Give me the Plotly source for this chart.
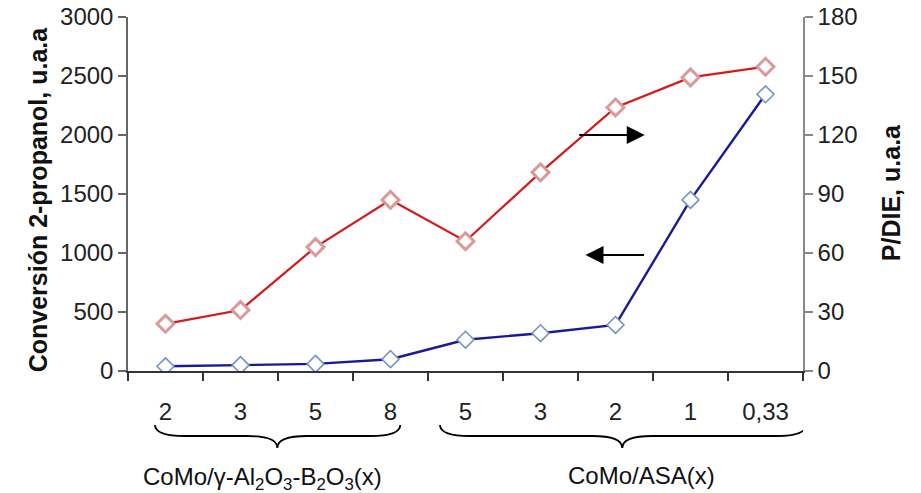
import plotly.graph_objects as go

categories = ["2", "3", "5", "8", "5", "3", "2", "1", "0,33"]
conversion = [40, 50, 60, 100, 265, 320, 390, 1450, 2345]   # left axis
p_die = [24, 31, 63, 87, 66, 101, 134, 149.3, 154.7]        # right axis
group_labels = ["CoMo/γ-Al<sub>2</sub>O<sub>3</sub>-B<sub>2</sub>O<sub>3</sub>(x)", "CoMo/ASA(x)"]
left_title = "<b>Conversión 2-propanol, u.a.a</b>"
right_title = "<b>P/DIE, u.a.a</b>"

xs = list(range(len(categories)))
FONT = "Liberation Sans, Arial, sans-serif"
TICK = 24

fig = go.Figure()
fig.add_trace(go.Scatter(
    x=xs, y=conversion, mode="lines+markers", yaxis="y",
    line=dict(color="#1a1a99", width=2.4),
    marker=dict(symbol="diamond", size=13, color="white",
                line=dict(color="#7593bd", width=1.6)),
    showlegend=False))
fig.add_trace(go.Scatter(
    x=xs, y=p_die, mode="lines+markers", yaxis="y2",
    line=dict(color="#d41a1a", width=2.2),
    marker=dict(symbol="diamond", size=13, color="white",
                line=dict(color="#d99a9a", width=3)),
    showlegend=False))

bounds = [i - 0.5 for i in range(len(categories) + 1)]

fig.update_layout(
    width=921, height=493,
    margin=dict(l=128, r=118, t=17, b=122, autoexpand=False),
    plot_bgcolor="white", paper_bgcolor="white",
    font=dict(family=FONT, size=TICK, color="#222"),
    xaxis=dict(range=[-0.5, 8.5], tickmode="array", tickvals=xs, ticktext=categories,
               ticks="", showgrid=False, zeroline=False, automargin=False,
               showline=True, linecolor="#333", linewidth=1.5,
               ticklabelstandoff=18, ticklabeloverflow="allow",
               tickfont=dict(size=TICK, color="#222"),
               minor=dict(tickmode="array", tickvals=bounds, ticks="outside",
                          ticklen=8, tickwidth=1.5, tickcolor="#333", showgrid=False)),
    yaxis=dict(range=[0, 3000], tickvals=[0, 500, 1000, 1500, 2000, 2500, 3000],
               ticks="outside", ticklen=8, tickcolor="#666", tickwidth=1.5,
               showline=True, linecolor="#666", linewidth=1.5, automargin=False,
               showgrid=False, zeroline=False, ticklabeloverflow="allow",
               tickfont=dict(size=TICK, color="#222")),
    yaxis2=dict(range=[0, 180], tickvals=[0, 30, 60, 90, 120, 150, 180],
                overlaying="y", side="right", automargin=False,
                ticks="outside", ticklen=8, tickcolor="#888", tickwidth=1.5,
                showline=True, linecolor="#888", linewidth=1.5,
                showgrid=False, zeroline=False, ticklabeloverflow="allow",
                tickfont=dict(size=TICK, color="#222")),
)

# Axis titles
fig.add_annotation(x=-0.157, y=0.485, xref="paper", yref="paper", text=left_title,
                   textangle=-90, showarrow=False, font=dict(size=25, color="#111"))
fig.add_annotation(x=1.154, y=0.505, xref="paper", yref="paper", text=right_title,
                   textangle=-90, showarrow=False, font=dict(size=25, color="#111"))

# Arrows
fig.add_annotation(x=6.39, y=2000, xref="x", yref="y", ax=-67, ay=0,
                   showarrow=True, arrowhead=2, arrowsize=1.8, arrowwidth=2,
                   arrowcolor="black", text="")
fig.add_annotation(x=5.6, y=983, xref="x", yref="y", ax=60, ay=0,
                   showarrow=True, arrowhead=2, arrowsize=1.8, arrowwidth=2,
                   arrowcolor="black", text="")

# Braces
def brace(x0, x1, xm, ytop=-0.1525, ymid=-0.1836, ytip=-0.2175, r=0.4):
    return (f"M {x0},{ytop} Q {x0},{ymid} {x0 + r},{ymid} L {xm - r},{ymid} "
            f"Q {xm},{ymid} {xm},{ytip} Q {xm},{ymid} {xm + r},{ymid} "
            f"L {x1 - r},{ymid} Q {x1},{ymid} {x1},{ytop}")

fig.add_shape(type="path", xref="x", yref="paper", path=brace(-0.14, 3.13, 1.49),
              line=dict(color="black", width=1.8))
fig.add_shape(type="path", xref="x", yref="paper", path=brace(3.66, 8.54, 6.09),
              line=dict(color="black", width=1.8))

fig.add_annotation(x=1.293, y=-0.294, xref="x", yref="paper", text=group_labels[0],
                   showarrow=False, yanchor="middle", yshift=-3, font=dict(size=24, color="#111"))
fig.add_annotation(x=6.34, y=-0.294, xref="x", yref="paper", text=group_labels[1],
                   showarrow=False, yanchor="middle", font=dict(size=24, color="#111"))

fig.write_html("out.html", config={"displayModeBar": False},
               post_script="document.body.style.margin='0';document.body.style.overflow='hidden';")
